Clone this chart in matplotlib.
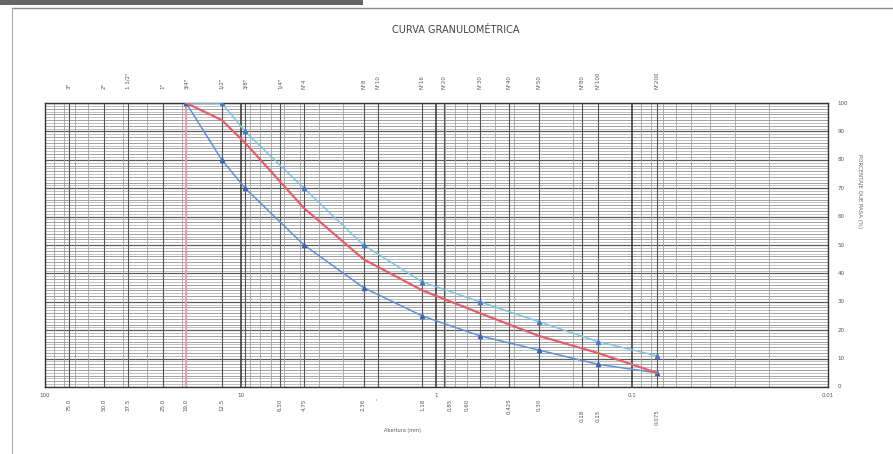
import matplotlib.pyplot as plt
import numpy as np
from matplotlib.lines import Line2D
from matplotlib.patches import Rectangle

# tamices (mm) y porcentajes que pasan
sizes = [19.0, 12.5, 9.5, 4.75, 2.36, 1.18, 0.60, 0.30, 0.15, 0.075]
lim_inf = [100, 80, 70, 50, 35, 25, 18, 13, 8, 5]
lim_sup = [100, 100, 90, 70, 50, 37, 30, 23, 16, 11]
muestra = [100, 94, 86, 63, 45, 34, 26, 18, 12, 5]

# rotulos de la serie de tamices (arriba designacion, abajo abertura)
top_sizes = [75, 50, 37.5, 25, 19, 12.5, 9.5, 6.3, 4.75, 2.36, 2.0, 1.18, 0.92, 0.60, 0.425, 0.30, 0.18, 0.15, 0.075]
top_names = ['3"', '2"', '1 1/2"', '1"', '3/4"', '1/2"', '3/8"', '1/4"', 'N°4', 'N°8', 'N°10', 'N°16',
             'N°20', 'N°30', 'N°40', 'N°50', 'N°80', 'N°100', 'N°200']
bot_sizes = [75, 50, 37.5, 25, 19, 12.5, 6.3, 4.75, 2.36, 2.0, 1.18, 0.85, 0.70, 0.425, 0.30, 0.18, 0.15, 0.075]
bot_names = ['75.0', '50.0', '37.5', '25.0', '19.0', '12.5', '6.30', '4.75', '2.36', '-', '1.18', '0.85',
             '0.60', '0.425', '0.30', '0.18', '0.15', '0.075']

fig = plt.figure(figsize=(8.93, 4.54), dpi=100)
ax = fig.add_axes([0.0504, 0.1476, 0.8768, 0.6254])

ax.set_xscale('log')
ax.set_xlim(100, 0.01)
ax.set_ylim(0, 100)

# cuadricula del papel semilogaritmico
for y in range(0, 101):
    c = '#5a5a5a' if y % 10 == 0 else ('#7a7a7a' if y % 2 == 0 else '#a8a8a8')
    lw = 0.9 if y % 10 == 0 else 0.5
    ax.axhline(y, color=c, lw=lw, zorder=1)
for dec in [10, 1, 0.1, 0.01]:
    for k in range(2, 10):
        ax.axvline(dec * k, color='#a0a0a0', lw=0.6, zorder=1)
    ax.axvline(dec * 10, color='#333333', lw=1.1, zorder=1)
for s in top_sizes:
    ax.axvline(s, color='#555555', lw=0.8, zorder=1)
ax.axvline(19, color='#e8a0b0', lw=1.4, zorder=2)

ax.plot(sizes, lim_sup, color='#80c4e4', lw=1.1, marker='^', ms=3, mfc='#4a78c0', mec='#4a78c0', zorder=3)
ax.plot(sizes, lim_inf, color='#5f92d6', lw=1.1, marker='^', ms=3, mfc='#3a64b0', mec='#3a64b0', zorder=3)
ax.plot(sizes, muestra, color='#e0606e', lw=1.6, zorder=4)

ax.set_xticks([])
ax.set_yticks([])
ax.minorticks_off()
for sp in ax.spines.values():
    sp.set_color('#333333')
    sp.set_linewidth(1.0)

tk = dict(fontsize=4, color='#555555')
for v, t in zip([100, 10, 1, 0.1, 0.01], ['100', '10', '1', '0.1', '0.01']):
    ax.text(v, -2, t, ha='center', va='top', **tk)
for y in range(0, 101, 10):
    ax.text(1.012, y / 100, str(y), transform=ax.transAxes, ha='left', va='center', **tk)

tr = ax.get_xaxis_transform()
for s, n in zip(top_sizes, top_names):
    ax.text(s, 1.05, n, transform=tr, rotation=90, ha='center', va='bottom', **tk)
for s, n in zip(bot_sizes, bot_names):
    yy = -0.04 if s not in (0.18, 0.15, 0.075) else -0.08
    ax.text(s, yy, n, transform=tr, rotation=90, ha='center', va='top', **tk)

ax.text(0.457, -0.145, 'Abertura (mm)', transform=ax.transAxes, ha='center', va='top',
        fontsize=3.5, color='#555555')
fig.text(0.963, 0.58, 'PORCENTAJE QUE PASA (%)', rotation=270, ha='center', va='center',
         fontsize=4, color='#666666')

fig.text(0.51, 0.935, 'CURVA GRANULOMÉTRICA', ha='center', va='center', fontsize=7, color='#444444')

# marco de la hoja
fig.add_artist(Rectangle((0, 0.99), 0.407, 0.01, transform=fig.transFigure, color='#666666', lw=0))
fig.add_artist(Line2D([0.013, 1.0], [0.982, 0.982], transform=fig.transFigure, color='#888888', lw=1.0))
fig.add_artist(Line2D([0.013, 0.013], [0.0, 0.982], transform=fig.transFigure, color='#aaaaaa', lw=0.8))

fig.savefig('out.png', dpi=100)
